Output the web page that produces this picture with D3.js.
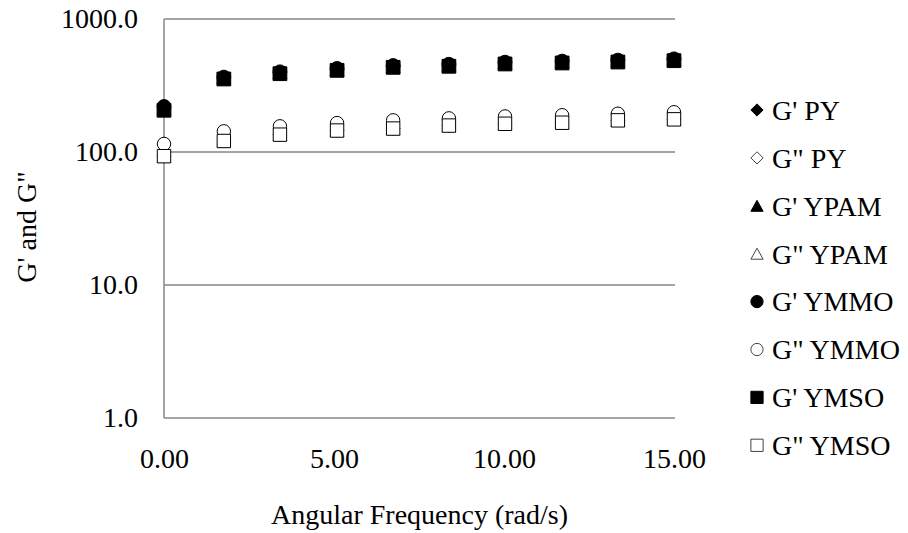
<!DOCTYPE html>
<html>
<head>
<meta charset="utf-8">
<script src="https://d3js.org/d3.v7.min.js"></script>
<style>
  body { margin: 0; background: #fff; }
  svg text { font-family: "Liberation Serif", "Times New Roman", serif; fill: #000; }
</style>
</head>
<body>
<svg id="chart" width="908" height="533"></svg>
<script>
// angular frequency (rad/s)
var freq = [0, 1.76, 3.41, 5.09, 6.74, 8.38, 10.03, 11.71, 13.35, 15.0];

// storage modulus G'
var gpPY   = [212, 360, 394, 418, 440, 450, 467, 476, 484, 495];
var gpYPAM = [214, 362, 396, 420, 442, 452, 469, 478, 486, 497];
var gpYMMO = [220, 366, 401, 425, 447, 457, 474, 483, 491, 502];
var gpYMSO = [206, 354, 388, 411, 433, 441, 459, 467, 475, 486];

// loss modulus G''
var gdpPY   = [93, 121, 135, 145, 150, 158, 163, 166, 173, 176];
var gdpYPAM = [93, 121, 135, 145, 150, 158, 163, 166, 173, 176];
var gdpYMMO = [115, 143, 156, 165, 173, 179, 185, 189, 194, 199];
var gdpYMSO = [93, 121, 135, 145, 150, 158, 163, 166, 173, 176];

var xTicks = [0, 5, 10, 15];
var yTicks = [1, 10, 100, 1000];

// excel-like marker shapes
var diamond = {draw: function(ctx, size) {
  var r = Math.sqrt(size) / 2;
  ctx.moveTo(0, -r); ctx.lineTo(r, 0); ctx.lineTo(0, r); ctx.lineTo(-r, 0); ctx.closePath();
}};
var triangle = {draw: function(ctx, size) {
  var w = Math.sqrt(size), h = w * 0.9;
  ctx.moveTo(0, -h / 2); ctx.lineTo(w / 2, h / 2); ctx.lineTo(-w / 2, h / 2); ctx.closePath();
}};
var circle = {draw: function(ctx, size) {
  var r = Math.sqrt(size) / 2;
  ctx.moveTo(r, 0); ctx.arc(0, 0, r, 0, 2 * Math.PI);
}};

var series = [
  {name: "G' PY",    vals: gpPY,    shape: diamond,         filled: true},
  {name: "G\" PY",   vals: gdpPY,   shape: diamond,         filled: false},
  {name: "G' YPAM",  vals: gpYPAM,  shape: triangle,        filled: true},
  {name: "G\" YPAM", vals: gdpYPAM, shape: triangle,        filled: false},
  {name: "G' YMMO",  vals: gpYMMO,  shape: circle,          filled: true},
  {name: "G\" YMMO", vals: gdpYMMO, shape: circle,          filled: false},
  {name: "G' YMSO",  vals: gpYMSO,  shape: d3.symbolSquare, filled: true},
  {name: "G\" YMSO", vals: gdpYMSO, shape: d3.symbolSquare, filled: false}
];

var margin = {top: 19, right: 233, bottom: 115, left: 164},
    width = 908 - margin.left - margin.right,
    height = 533 - margin.top - margin.bottom;

var svg = d3.select("#chart");
var g = svg.append("g")
    .attr("transform", "translate(" + margin.left + "," + margin.top + ")");

var x = d3.scaleLinear().domain([0, 15.03]).range([0, width]);
var y = d3.scaleLog().domain([1, 1000]).range([height, 0]);

// gridlines
g.selectAll(".grid")
    .data(yTicks)
  .enter().append("line")
    .attr("x1", 0).attr("x2", width)
    .attr("y1", function(d) { return y(d); })
    .attr("y2", function(d) { return y(d); })
    .attr("stroke", "#878787").attr("stroke-width", 1.5);

// left axis line
g.append("line")
    .attr("x1", 0).attr("x2", 0).attr("y1", 0).attr("y2", height)
    .attr("stroke", "#878787").attr("stroke-width", 1.5);

// y tick labels
var yAxis = g.append("g")
    .call(d3.axisLeft(y).tickValues(yTicks).tickSize(0).tickPadding(26)
      .tickFormat(d3.format(".1f")));
yAxis.select(".domain").remove();
yAxis.selectAll("text")
    .style("font-family", "Liberation Serif").style("font-size", "28px");

// x tick labels
var xAxis = g.append("g")
    .attr("transform", "translate(0," + height + ")")
    .call(d3.axisBottom(x).tickValues(xTicks).tickSize(0).tickPadding(30)
      .tickFormat(d3.format(".2f")));
xAxis.select(".domain").remove();
xAxis.selectAll("text")
    .style("font-family", "Liberation Serif").style("font-size", "28px");

// markers
var sym = d3.symbol();
series.forEach(function(s) {
  g.append("g").selectAll("path")
      .data(s.vals)
    .enter().append("path")
      .attr("transform", function(d, i) { return "translate(" + x(freq[i]) + "," + y(d) + ")"; })
      .attr("d", sym.type(s.shape).size(s.filled ? 190 : 180)())
      .attr("fill", s.filled ? "#000" : "#fff")
      .attr("stroke", "#000").attr("stroke-width", 1);
});

// axis titles
svg.append("text")
    .attr("x", margin.left + width / 2).attr("y", 524)
    .attr("text-anchor", "middle").style("font-size", "28px")
    .text("Angular Frequency (rad/s)");

svg.append("text")
    .attr("transform", "translate(36,227) rotate(-90)")
    .attr("text-anchor", "middle").style("font-size", "28px")
    .text("G' and G\"");

// legend
var legend = svg.append("g").attr("transform", "translate(757,110)");
var row = legend.selectAll("g")
    .data(series)
  .enter().append("g")
    .attr("transform", function(d, i) { return "translate(0," + (i * 47.9) + ")"; });
row.append("path")
    .attr("d", function(d) { return sym.type(d.shape).size(150)(); })
    .attr("fill", function(d) { return d.filled ? "#000" : "#fff"; })
    .attr("stroke", function(d) { return d.filled ? "#000" : "#444"; })
    .attr("stroke-width", 1);
row.append("text")
    .attr("x", 15).attr("dy", "0.35em")
    .style("font-size", "28px")
    .text(function(d) { return d.name; });
</script>
</body>
</html>
